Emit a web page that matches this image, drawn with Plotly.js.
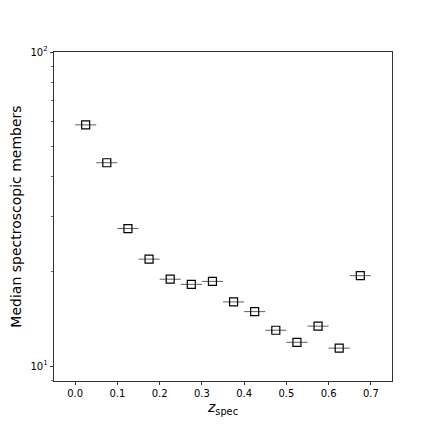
<!DOCTYPE html>
<html>
<head>
<meta charset="utf-8">
<script src="https://cdn.plot.ly/plotly-3.0.1.min.js"></script>
<style>
  html, body { margin: 0; padding: 0; background: #fff; }
  #plot { width: 436px; height: 436px; }
</style>
</head>
<body>
<div id="plot"></div>
<script>
// redshift bin centres and half widths
const zBins = [0.025, 0.075, 0.125, 0.175, 0.225, 0.275, 0.325, 0.375, 0.425, 0.475, 0.525, 0.575, 0.625, 0.675];
const zHalfWidth = [0.025, 0.025, 0.025, 0.025, 0.025, 0.025, 0.025, 0.025, 0.025, 0.025, 0.025, 0.025, 0.025, 0.025];
// median number of spectroscopic members per bin
const medianMembers = [58.6, 44.4, 27.4, 21.9, 18.9, 18.2, 18.6, 16.0, 14.9, 13.0, 11.9, 13.4, 11.4, 19.4];

const xTickVals = [0, 0.1, 0.2, 0.3, 0.4, 0.5, 0.6, 0.7];
const xTickText = ['0.0', '0.1', '0.2', '0.3', '0.4', '0.5', '0.6', '0.7'];
const yTickVals = [10, 100];
const yTickText = ['10<sup>1</sup>', '10<sup>2</sup>'];
const yMinorVals = [9, 20, 30, 40, 50, 60, 70, 80, 90];

const trace = {
    x: zBins,
    y: medianMembers,
    type: 'scatter',
    mode: 'markers',
    marker: {
        symbol: 'square-open',
        size: 8,
        color: '#000',
        line: { width: 1.2, color: '#000' }
    },
    error_x: {
        type: 'data',
        array: zHalfWidth,
        visible: true,
        color: '#333',
        thickness: 0.8,
        width: 0
    },
    showlegend: false
};

const layout = {
    width: 436,
    height: 436,
    margin: { l: 54, r: 44, t: 52, b: 55 },
    paper_bgcolor: '#fff',
    plot_bgcolor: '#fff',
    font: { family: 'DejaVu Sans', size: 10, color: '#000' },
    xaxis: {
        range: [-0.05, 0.75],
        tickvals: xTickVals,
        ticktext: xTickText,
        ticks: 'outside',
        ticklen: 3.5,
        tickwidth: 0.8,
        tickcolor: '#000',
        showline: true,
        linecolor: '#000',
        linewidth: 0.8,
        mirror: true,
        showgrid: false,
        zeroline: false,
        title: { text: '<i>z</i><sub>spec</sub>', font: { size: 14 }, standoff: 3 }
    },
    yaxis: {
        type: 'log',
        range: [Math.log10(8.96), 2],
        tickvals: yTickVals,
        ticktext: yTickText,
        ticks: 'outside',
        ticklen: 3.5,
        tickwidth: 0.8,
        tickcolor: '#000',
        minor: { tickvals: yMinorVals, ticks: 'outside', ticklen: 2, tickwidth: 0.6, tickcolor: '#000', showgrid: false },
        showline: true,
        linecolor: '#000',
        linewidth: 0.8,
        mirror: true,
        showgrid: false,
        zeroline: false,
        title: { text: 'Median spectroscopic members', font: { size: 14 }, standoff: 5 }
    }
};

Plotly.newPlot('plot', [trace], layout, { displayModeBar: false, staticPlot: true });
</script>
</body>
</html>
